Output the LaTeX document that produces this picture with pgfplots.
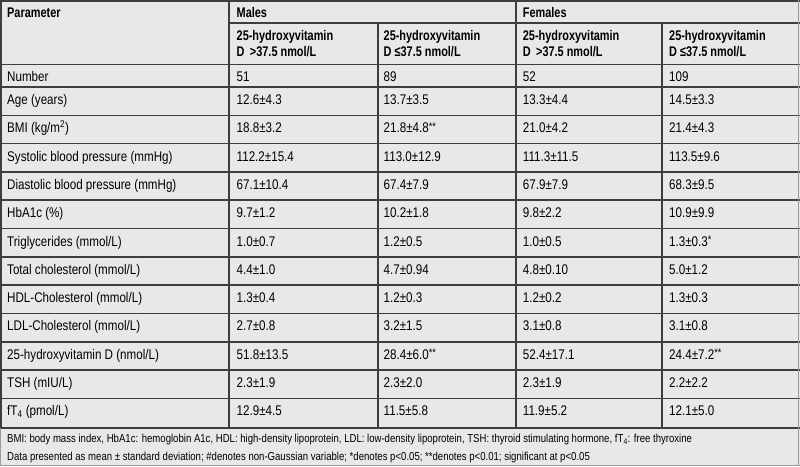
\documentclass[border=0pt]{standalone}
\usepackage{pgfplots}
\pgfplotsset{compat=1.18}
\usepackage{fontspec}
\setmainfont{Liberation Sans}[FakeStretch=0.83,BoldFeatures={FakeStretch=0.78}]
\definecolor{bg}{HTML}{E8E8E9}
\definecolor{ln}{HTML}{3E3E3E}
\definecolor{lg}{HTML}{9A9A9A}
\tikzset{tx/.style={anchor=base west,inner sep=0pt,font=\fontsize{14}{16}\selectfont},
  hd/.style={anchor=base west,inner sep=0pt,font=\fontsize{14}{16}\selectfont\bfseries},
  ft/.style={anchor=base west,inner sep=0pt,font=\fontsize{11.55}{13}\selectfont}}
\newcommand\sig[1]{\raisebox{2.5pt}{\fontsize{11}{12}\selectfont #1}}
\newcommand\tabrow[6]{%
 \node[tx] at (axis cs:7,#1) {#2};
 \node[tx] at (axis cs:236.5,#1) {#3};
 \node[tx] at (axis cs:383.5,#1) {#4};
 \node[tx] at (axis cs:522.7,#1) {#5};
 \node[tx] at (axis cs:669,#1) {#6};}
\newcommand\hl[1]{\draw[ln,line width=1.6pt] (axis cs:0,#1) -- (axis cs:800,#1);}
\begin{document}
\begin{tikzpicture}
\begin{axis}[name=tab,width=800pt,height=466pt,scale only axis,
  xmin=0,xmax=800,ymin=0,ymax=466,y dir=reverse,hide axis,clip=true]
\fill[bg] (axis cs:0,0) rectangle (axis cs:800,466);
% horizontal rules
\draw[ln,line width=1.6pt] (axis cs:229,22.7) -- (axis cs:800,22.7);
\draw[ln,line width=1.6pt] (axis cs:0,0.8) -- (axis cs:800,0.8);
\hl{64.3}\hl{87}\hl{115.3}\hl{143.6}\hl{171.9}\hl{200.2}\hl{228.5}\hl{256.8}\hl{285.1}\hl{313.4}\hl{341.7}\hl{370}\hl{398.3}\hl{427.7}
% vertical rules
\draw[ln,line width=1.6pt] (axis cs:0.8,0) -- (axis cs:0.8,427.7);
\draw[lg,line width=1.2pt] (axis cs:0.6,427.7) -- (axis cs:0.6,466);
\draw[ln,line width=1.6pt] (axis cs:229,0) -- (axis cs:229,427.7);
\draw[ln,line width=1.6pt] (axis cs:378,22.7) -- (axis cs:378,427.7);
\draw[ln,line width=1.6pt] (axis cs:516,0) -- (axis cs:516,427.7);
\draw[ln,line width=1.6pt] (axis cs:662,22.7) -- (axis cs:662,427.7);
\draw[lg,line width=1.2pt] (axis cs:798.6,0) -- (axis cs:798.6,466);
\draw[lg,line width=1.2pt] (axis cs:0,465.4) -- (axis cs:800,465.4);
% header
\node[hd] at (axis cs:7,17.3) {Parameter};
\node[hd] at (axis cs:236.5,17.3) {Males};
\node[hd] at (axis cs:522.7,17.3) {Females};
\node[hd] at (axis cs:236.5,40) {25-hydroxyvitamin};
\node[hd] at (axis cs:236.5,56) {D \,>37.5 nmol/L};
\node[hd] at (axis cs:383.5,40) {25-hydroxyvitamin};
\node[hd] at (axis cs:383.5,56) {D ≤37.5 nmol/L};
\node[hd] at (axis cs:522.7,40) {25-hydroxyvitamin};
\node[hd] at (axis cs:522.7,56) {D \,>37.5 nmol/L};
\node[hd] at (axis cs:669,40) {25-hydroxyvitamin};
\node[hd] at (axis cs:669,56) {D ≤37.5 nmol/L};
% body
\tabrow{81.7}{Number}{51}{89}{52}{109}
\tabrow{104.5}{Age (years)}{12.6±4.3}{13.7±3.5}{13.3±4.4}{14.5±3.3}
\tabrow{132.8}{BMI (kg/m\textsuperscript{2})}{18.8±3.2}{21.8±4.8\sig{**}}{21.0±4.2}{21.4±4.3}
\tabrow{161.1}{Systolic blood pressure (mmHg)}{112.2±15.4}{113.0±12.9}{111.3±11.5}{113.5±9.6}
\tabrow{189.4}{Diastolic blood pressure (mmHg)}{67.1±10.4}{67.4±7.9}{67.9±7.9}{68.3±9.5}
\tabrow{217.7}{HbA1c (\%)}{9.7±1.2}{10.2±1.8}{9.8±2.2}{10.9±9.9}
\tabrow{246.0}{Triglycerides (mmol/L)}{1.0±0.7}{1.2±0.5}{1.0±0.5}{1.3±0.3\sig{*}}
\tabrow{274.3}{Total cholesterol (mmol/L)}{4.4±1.0}{4.7±0.94}{4.8±0.10}{5.0±1.2}
\tabrow{302.6}{HDL-Cholesterol (mmol/L)}{1.3±0.4}{1.2±0.3}{1.2±0.2}{1.3±0.3}
\tabrow{330.9}{LDL-Cholesterol (mmol/L)}{2.7±0.8}{3.2±1.5}{3.1±0.8}{3.1±0.8}
\tabrow{359.2}{25-hydroxyvitamin D (nmol/L)}{51.8±13.5}{28.4±6.0\sig{**}}{52.4±17.1}{24.4±7.2\sig{**}}
\tabrow{387.5}{TSH (mIU/L)}{2.3±1.9}{2.3±2.0}{2.3±1.9}{2.2±2.2}
\tabrow{415.8}{fT\textsubscript{4} (pmol/L)}{12.9±4.5}{11.5±5.8}{11.9±5.2}{12.1±5.0}
% footer
\node[ft] at (axis cs:7,442.7) {BMI: body mass index, HbA1c: hemoglobin A1c, HDL: high-density lipoprotein, LDL: low-density lipoprotein, TSH: thyroid stimulating hormone, fT\textsubscript{4}: free thyroxine};
\node[ft] at (axis cs:7,460) {Data presented as mean ± standard deviation; \#denotes non-Gaussian variable; *denotes p<0.05; **denotes p<0.01; significant at p<0.05};
\end{axis}
\pgfresetboundingbox
\path[use as bounding box] (tab.south west) rectangle (tab.north east);
\end{tikzpicture}
\end{document}
